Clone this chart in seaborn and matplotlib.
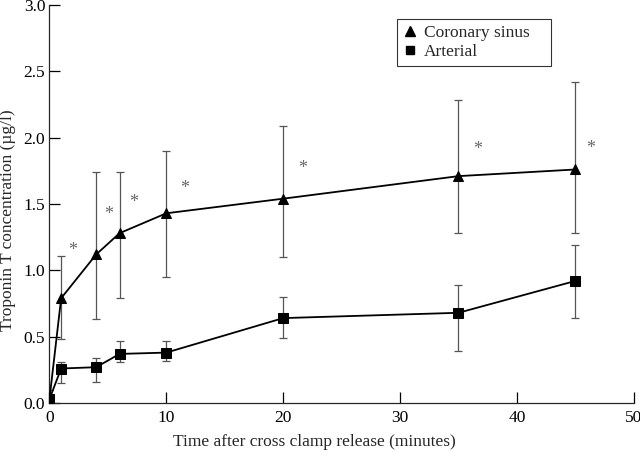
import pandas as pd
import matplotlib
matplotlib.use('Agg')
import matplotlib.pyplot as plt
from matplotlib.lines import Line2D
import seaborn as sns

time = [0, 1, 4, 6, 10, 20, 35, 45]
sinus = [0.03, 0.79, 1.12, 1.28, 1.43, 1.54, 1.71, 1.76]
sinus_lo = [0.0, 0.48, 0.63, 0.79, 0.95, 1.10, 1.28, 1.28]
sinus_hi = [0.10, 1.11, 1.74, 1.74, 1.90, 2.09, 2.28, 2.42]
arterial = [0.03, 0.26, 0.27, 0.37, 0.38, 0.64, 0.68, 0.92]
arterial_lo = [0.0, 0.15, 0.16, 0.31, 0.32, 0.49, 0.39, 0.64]
arterial_hi = [0.05, 0.31, 0.34, 0.47, 0.47, 0.80, 0.89, 1.19]
star_x = [2.0, 5.1, 7.2, 11.6, 21.7, 36.6, 46.3]
star_y = [1.15, 1.42, 1.51, 1.62, 1.77, 1.91, 1.92]

df = pd.DataFrame({
    'time': time * 2,
    'value': sinus + arterial,
    'lo': sinus_lo + arterial_lo,
    'hi': sinus_hi + arterial_hi,
    'group': ['Coronary sinus'] * len(time) + ['Arterial'] * len(time),
})

sns.set_style('ticks')
plt.rcParams['font.family'] = ['Liberation Serif', 'DejaVu Serif']

fig = plt.figure(figsize=(6.4, 4.51), dpi=100)
ax = fig.add_axes([0.0773, 0.1064, 0.913, 0.8826])

for g in ['Coronary sinus', 'Arterial']:
    d = df[df['group'] == g]
    ax.errorbar(d['time'], d['value'],
                yerr=[d['value'] - d['lo'], d['hi'] - d['value']],
                fmt='none', ecolor='#555555', elinewidth=0.9, capsize=3, capthick=0.9, zorder=1)

sns.lineplot(data=df, x='time', y='value', hue='group', style='group',
             markers={'Coronary sinus': '^', 'Arterial': 's'}, dashes=False,
             palette={'Coronary sinus': 'black', 'Arterial': 'black'},
             markersize=7, markeredgecolor='black', linewidth=1.3,
             legend=False, ax=ax, zorder=3)

for x, y in zip(star_x, star_y):
    ax.text(x, y, '*', color='#666666', fontsize=13, ha='center', va='center')

ax.set_xlim(0, 50)
ax.set_ylim(0, 3.0)
ax.set_xticks([0, 10, 20, 30, 40, 50])
ax.set_yticks([0.0, 0.5, 1.0, 1.5, 2.0, 2.5, 3.0])
ax.set_yticklabels(['0.0', '0.5', '1.0', '1.5', '2.0', '2.5', '3.0'])
ax.tick_params(direction='in', length=8, width=0.9, labelsize=12.5, colors='black')
ax.tick_params(axis='x', pad=5)
ax.tick_params(axis='y', pad=3)
ax.set_xlabel('Time after cross clamp release (minutes)', fontsize=12.5)
ax.set_ylabel('Troponin T concentration (µg/l)', fontsize=12.5)
ax.xaxis.set_label_coords(0.454, -0.078)
ax.yaxis.set_label_coords(-0.058, 0.46)
sns.despine(ax=ax)
for s in ['left', 'bottom']:
    ax.spines[s].set_linewidth(0.9)

handles = [Line2D([], [], marker='^', color='black', linestyle='none', markersize=7),
           Line2D([], [], marker='s', color='black', linestyle='none', markersize=6)]
leg = ax.legend(handles, ['Coronary sinus', 'Arterial'], loc='upper left',
                bbox_to_anchor=(0.5945, 0.5, 0.2635, 0.465), mode='expand',
                fontsize=12.5, frameon=True, fancybox=False,
                handlelength=0.8, handletextpad=0.4, borderpad=0.35, labelspacing=0.15,
                borderaxespad=0)
leg.get_frame().set_edgecolor('black')
leg.get_frame().set_linewidth(0.8)

fig.savefig('out.png', dpi=100)
